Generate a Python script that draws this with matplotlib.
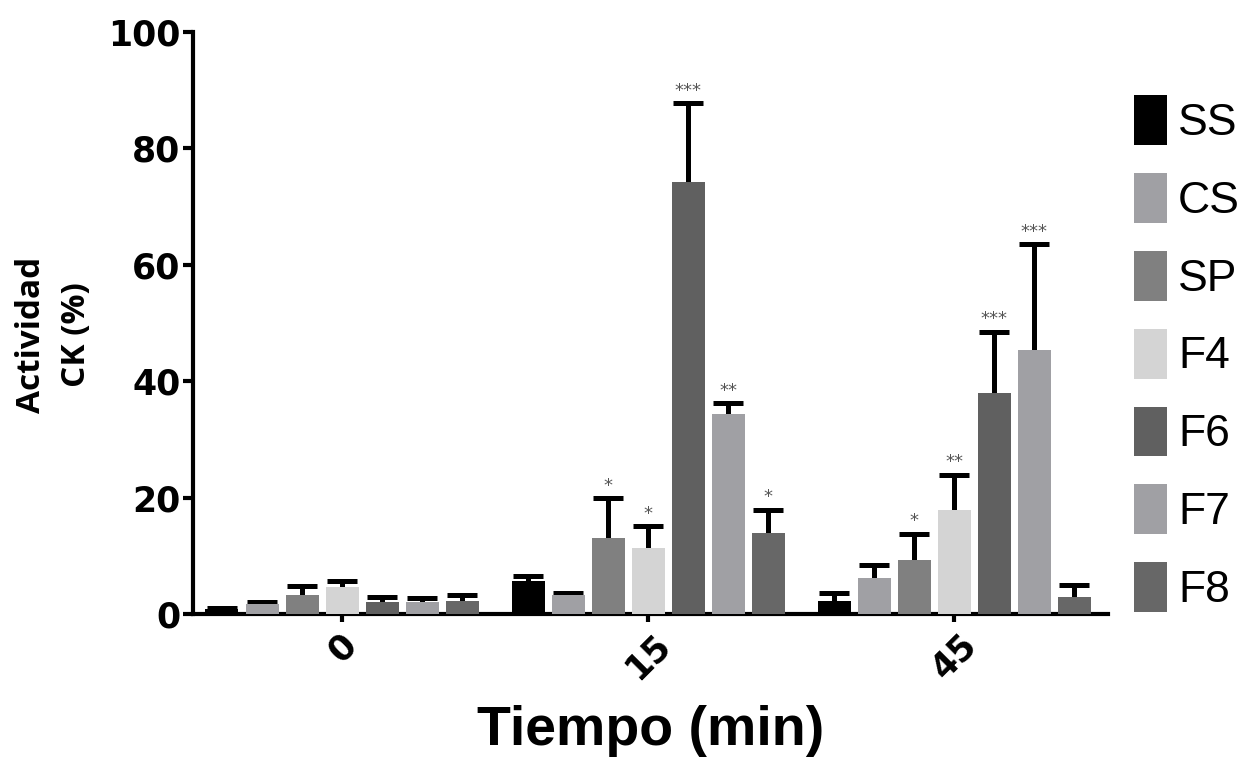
import numpy as np
import matplotlib
matplotlib.use("Agg")
import matplotlib.pyplot as plt
import matplotlib.transforms as mtransforms
from matplotlib.patches import Patch

# --- data ---
times = ["0", "15", "45"]
groups = ["SS", "CS", "SP", "F4", "F6", "F7", "F8"]
colors = ["#000000", "#a0a0a4", "#808080", "#d4d4d4", "#606060", "#a0a0a4", "#676767"]

means = {
    "SS": [0.8, 5.6, 2.3],
    "CS": [1.7, 3.3, 6.1],
    "SP": [3.2, 13.1, 9.3],
    "F4": [4.6, 11.3, 17.9],
    "F6": [2.1, 74.3, 38.0],
    "F7": [2.0, 34.3, 45.3],
    "F8": [2.3, 13.9, 2.9],
}
errs = {
    "SS": [0.3, 0.9, 1.3],
    "CS": [0.3, 0.3, 2.3],
    "SP": [1.6, 6.8, 4.5],
    "F4": [1.0, 3.8, 6.0],
    "F6": [0.8, 13.5, 10.5],
    "F7": [0.7, 1.9, 18.2],
    "F8": [0.9, 4.0, 2.1],
}
stars = {
    "SP": ["", "*", "*"],
    "F4": ["", "*", "**"],
    "F6": ["", "***", "***"],
    "F7": ["", "**", "***"],
    "F8": ["", "*", ""],
}

# --- figure ---
fig = plt.figure(figsize=(12.45, 7.67), dpi=100)
ax = fig.add_axes([193 / 1245, 1 - 614 / 767, (1108 - 193) / 1245, (614 - 32) / 767])

x = np.arange(len(times))
pitch = 40 / 306
width = 33 / 306

for i, g in enumerate(groups):
    pos = x + (i - 3) * pitch
    vals = np.array(means[g])
    err = np.array(errs[g])
    ax.bar(pos, vals, width=width, color=colors[i], zorder=3)
    eb = ax.errorbar(pos, vals, yerr=[np.zeros_like(err), err], fmt="none",
                     ecolor="black", elinewidth=3.6, capsize=11, capthick=3.6, zorder=2)
    eb[1][0].set_visible(False)
    for p, v, e, s in zip(pos, vals, err, stars.get(g, [""] * 3)):
        if s:
            ax.text(p, v + e + 0.6, s, ha="center", va="bottom", fontsize=13,
                    color="#555555")

ax.set_xlim((193 - 342) / 306, (1108 - 342) / 306)
ax.set_ylim(0, 100)
ax.set_yticks([0, 20, 40, 60, 80, 100])
ax.set_xticks(x)
ax.set_xticklabels(times, rotation=45, ha="center", fontsize=25, fontweight="bold")
shift = mtransforms.ScaledTranslation(-8 / 100, -2 / 100, fig.dpi_scale_trans)
for lab in ax.get_xticklabels():
    lab.set_transform(lab.get_transform() + shift)
for lab in ax.get_yticklabels():
    lab.set_fontsize(25)
    lab.set_fontweight("bold")

for side in ["top", "right"]:
    ax.spines[side].set_visible(False)
for side in ["left", "bottom"]:
    ax.spines[side].set_linewidth(3)
ax.tick_params(axis="y", length=7, width=3, pad=2)
ax.tick_params(axis="x", length=6, width=3, pad=4)

ax.set_xlabel("Tiempo (min)", fontsize=40, fontweight="bold",
              family="Liberation Sans", labelpad=14)
fig.text(54 / 1245, 1 - 335 / 767, "Actividad\nCK (%)", rotation=90, ha="center",
         va="center", fontsize=24, fontweight="bold", family="Open Sans",
         linespacing=1.45)

handles = [Patch(facecolor=c, edgecolor="none") for c in colors]
fig.legend(handles, groups, loc="upper left", bbox_to_anchor=(1134 / 1245, 1 - 95 / 767),
           frameon=False, borderpad=0, borderaxespad=0, handlelength=0.74,
           handleheight=1.35, handletextpad=0.25, labelspacing=0.63,
           prop={"family": "Liberation Sans", "size": 32})

fig.savefig("out.png", dpi=100)
